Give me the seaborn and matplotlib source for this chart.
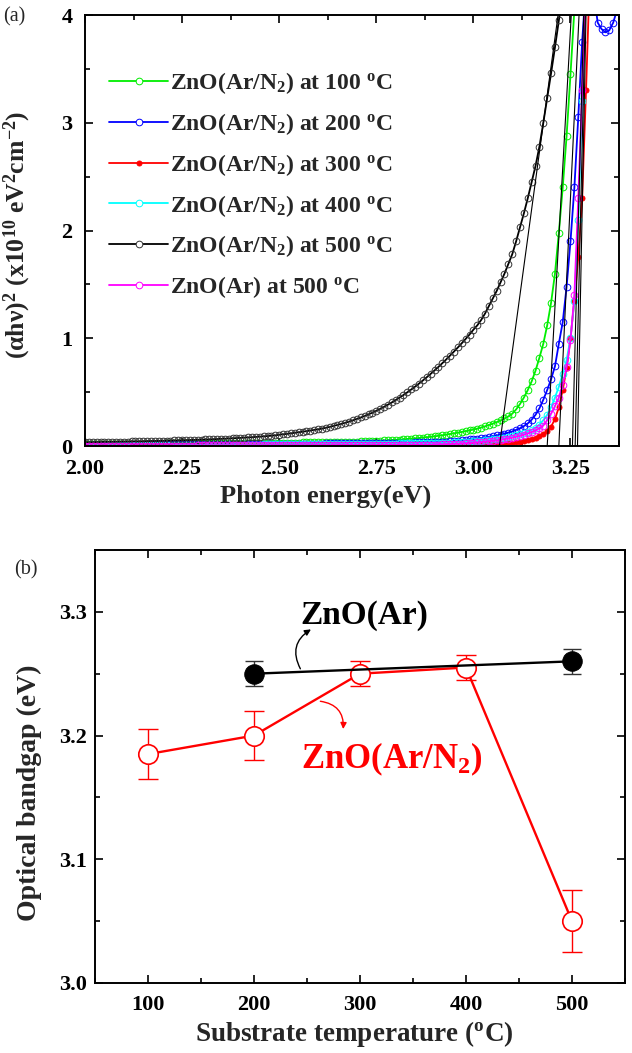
import numpy as np
import pandas as pd
import matplotlib
matplotlib.use("Agg")
import matplotlib.pyplot as plt
from matplotlib.ticker import MultipleLocator, FormatStrFormatter
import seaborn as sns

sns.set_theme(style="ticks")
plt.rcParams["font.family"] = ["Liberation Serif", "DejaVu Serif"]
plt.rcParams["font.weight"] = "bold"
plt.rcParams["axes.labelweight"] = "bold"
plt.rcParams["mathtext.fontset"] = "custom"
plt.rcParams["mathtext.rm"] = "Liberation Serif:bold"
plt.rcParams["mathtext.it"] = "Liberation Serif:bold"
plt.rcParams["mathtext.bf"] = "Liberation Serif:bold"

# ---------------- panel (a): Tauc plot data, sampled every 0.01 eV from 2.00 eV ----------------
energy = np.round(np.arange(200, 338) / 100, 2)

tauc_100 = [
    .020, .020, .020, .020, .021, .021, .021, .021, .021, .022,
    .022, .022, .022, .022, .022, .023, .023, .023, .023, .023,
    .023, .024, .024, .024, .024, .024, .025, .025, .025, .025,
    .025, .025, .026, .026, .026, .026, .026, .027, .027, .027,
    .027, .028, .028, .028, .028, .029, .029, .029, .030, .030,
    .030, .031, .031, .031, .032, .032, .033, .033, .034, .034,
    .035, .035, .036, .036, .037, .038, .038, .039, .040, .041,
    .042, .043, .044, .046, .047, .048, .050, .052, .054, .056,
    .058, .060, .063, .066, .069, .072, .075, .079, .082, .086,
    .090, .095, .100, .106, .112, .118, .124, .131, .138, .145,
    .153, .162, .172, .183, .195, .208, .222, .238, .256, .275,
    .30, .34, .39, .45, .52, .60, .70, .82, .95, 1.12,
    1.33, 1.60, 1.98, 2.40, 2.88, 3.45, 4.05,
]
tauc_200 = [
    .012, .012, .012, .012, .013, .013, .013, .013, .013, .013,
    .014, .014, .014, .014, .014, .014, .015, .015, .015, .015,
    .015, .015, .016, .016, .016, .016, .016, .016, .017, .017,
    .017, .017, .017, .017, .018, .018, .018, .018, .018, .018,
    .019, .019, .019, .019, .019, .020, .020, .020, .020, .020,
    .021, .021, .021, .021, .022, .022, .022, .022, .023, .023,
    .023, .023, .024, .024, .024, .025, .025, .025, .026, .026,
    .026, .027, .027, .027, .028, .028, .029, .029, .029, .030,
    .030, .031, .031, .032, .032, .033, .033, .034, .034, .035,
    .036, .038, .040, .042, .044, .047, .050, .053, .057, .061,
    .065, .069, .074, .079, .085, .091, .098, .106, .115, .125,
    .135, .150, .165, .185, .210, .245, .290, .350, .430, .520,
    .62, .74, .95, 1.15, 1.48, 1.90, 2.40, 3.05, 3.75, 4.30,
    4.50, 4.20, 3.93, 3.87, 3.84, 3.86, 3.93, 4.05,
]
tauc_300 = [
    .002, .002, .002, .002, .002, .002, .002, .002, .002, .003,
    .003, .003, .003, .003, .003, .003, .003, .003, .003, .003,
    .004, .004, .004, .004, .004, .004, .004, .004, .004, .004,
    .005, .005, .005, .005, .005, .005, .005, .005, .005, .005,
    .006, .006, .006, .006, .006, .006, .006, .006, .006, .006,
    .007, .007, .007, .007, .007, .007, .007, .007, .007, .007,
    .008, .008, .008, .008, .008, .008, .008, .008, .008, .008,
    .009, .009, .009, .009, .009, .009, .009, .009, .009, .009,
    .010, .010, .010, .010, .010, .010, .010, .010, .010, .010,
    .010, .010, .011, .011, .011, .011, .011, .011, .012, .012,
    .012, .013, .014, .015, .016, .018, .020, .022, .025, .028,
    .032, .036, .041, .047, .054, .063, .075, .090, .110, .140,
    .18, .25, .36, .52, .72, 1.00, 1.35, 1.75, 2.30, 3.30,
    4.40,
]
tauc_400 = [
    .008, .008, .008, .008, .008, .009, .009, .009, .009, .009,
    .009, .009, .009, .010, .010, .010, .010, .010, .010, .010,
    .011, .011, .011, .011, .011, .011, .011, .012, .012, .012,
    .012, .012, .012, .012, .013, .013, .013, .013, .013, .013,
    .014, .014, .014, .014, .014, .014, .015, .015, .015, .015,
    .015, .016, .016, .016, .016, .016, .017, .017, .017, .017,
    .018, .018, .018, .018, .019, .019, .019, .019, .020, .020,
    .020, .020, .021, .021, .021, .022, .022, .022, .023, .023,
    .023, .024, .024, .024, .025, .025, .025, .026, .026, .026,
    .026, .027, .028, .030, .031, .033, .035, .037, .039, .041,
    .044, .047, .050, .053, .057, .061, .066, .071, .077, .083,
    .090, .100, .110, .120, .135, .150, .170, .200, .240, .290,
    .36, .45, .55, .67, .80, 1.00, 1.35, 2.10, 3.20, 4.30,
]
tauc_500 = [
    .035, .035, .036, .037, .037, .038, .039, .039, .040, .041,
    .041, .042, .043, .044, .044, .045, .046, .047, .047, .048,
    .049, .050, .051, .052, .053, .054, .055, .056, .057, .058,
    .060, .061, .062, .064, .065, .067, .068, .070, .072, .074,
    .076, .078, .080, .082, .085, .087, .090, .093, .096, .099,
    .105, .109, .113, .118, .123, .128, .133, .138, .144, .150,
    .155, .162, .170, .178, .187, .196, .206, .216, .227, .239,
    .252, .265, .279, .294, .310, .327, .345, .364, .384, .405,
    .427, .450, .474, .499, .525, .552, .580, .609, .639, .670,
    .702, .735, .769, .804, .840, .877, .915, .954, .994, 1.035,
    1.08, 1.12, 1.17, 1.23, 1.30, 1.37, 1.44, 1.52, 1.60, 1.69,
    1.78, 1.90, 2.03, 2.16, 2.30, 2.45, 2.60, 2.78, 3.00, 3.23,
    3.46, 3.70, 3.95, 4.20,
]
tauc_ar500 = [
    .003, .003, .003, .003, .003, .003, .003, .003, .004, .004,
    .004, .004, .004, .004, .004, .004, .004, .004, .004, .005,
    .005, .005, .005, .005, .005, .005, .005, .005, .005, .006,
    .006, .006, .006, .006, .006, .006, .006, .006, .006, .007,
    .007, .007, .007, .007, .007, .007, .007, .007, .007, .008,
    .008, .008, .008, .008, .008, .008, .008, .008, .009, .009,
    .009, .009, .009, .009, .009, .009, .009, .010, .010, .010,
    .010, .010, .010, .010, .010, .010, .011, .011, .011, .011,
    .011, .011, .011, .011, .012, .012, .012, .012, .012, .012,
    .013, .014, .015, .016, .017, .019, .021, .023, .025, .027,
    .030, .033, .036, .040, .044, .048, .053, .058, .064, .070,
    .078, .086, .095, .105, .117, .130, .145, .165, .190, .240,
    .30, .37, .45, .57, .73, .98, 1.40, 2.30, 3.30, 4.30,
]

series_labels = [
    r"ZnO(Ar/N$_2$) at 100 $^{\rm o}$C",
    r"ZnO(Ar/N$_2$) at 200 $^{\rm o}$C",
    r"ZnO(Ar/N$_2$) at 300 $^{\rm o}$C",
    r"ZnO(Ar/N$_2$) at 400 $^{\rm o}$C",
    r"ZnO(Ar/N$_2$) at 500 $^{\rm o}$C",
    r"ZnO(Ar) at 500 $^{\rm o}$C",
]
series_values = [tauc_100, tauc_200, tauc_300, tauc_400, tauc_500, tauc_ar500]
series_colors = ["#00ee00", "#0000ff", "#ff0000", "#00ffff", "#000000", "#ff00ff"]
series_filled = [False, False, True, False, False, False]

# linear fits of the absorption edge: energy where the fit is 0 and where it reaches 4
fit_start = [3.190, 3.220, 3.255, 3.262, 3.067, 3.268]
fit_end = [3.252, 3.272, 3.284, 3.288, 3.218, 3.290]
fit_levels = [0, 4]

# ---------------- panel (b): optical bandgap ----------------
temp_n2 = [100, 200, 300, 400, 500]
gap_n2 = [3.185, 3.200, 3.250, 3.255, 3.050]
err_n2 = [0.020, 0.020, 0.010, 0.010, 0.025]
temp_ar = [200, 500]
gap_ar = [3.250, 3.260]
err_ar = [0.010, 0.010]

fig = plt.figure(figsize=(6.32, 10.53), dpi=100)
ax1 = fig.add_axes([0.1345, 0.5764, 0.845, 0.4093])
ax2 = fig.add_axes([0.1503, 0.0665, 0.8386, 0.4112])

for vals, lab, col, filled in zip(series_values, series_labels, series_colors, series_filled):
    d = pd.DataFrame({"energy": energy[:len(vals)], "value": vals})
    edge = "#333333" if col == "#000000" else col
    sns.lineplot(data=d, x="energy", y="value", ax=ax1, estimator=None, sort=False,
                 color=col, linewidth=1.3, marker="o",
                 markersize=3.6 if filled else 4.8,
                 markerfacecolor=col if filled else "none",
                 markeredgecolor=edge, markeredgewidth=0.7,
                 label=lab)

for e0, e1 in zip(fit_start, fit_end):
    sns.lineplot(x=[e0, e1], y=fit_levels, ax=ax1, color="black", linewidth=0.8,
                 estimator=None, sort=False, label="_nolegend_")

ax1.set_xlim(2.0, 3.375)
ax1.set_ylim(0, 4)
ax1.xaxis.set_major_locator(MultipleLocator(0.25))
ax1.xaxis.set_minor_locator(MultipleLocator(0.125))
ax1.xaxis.set_major_formatter(FormatStrFormatter("%.2f"))
ax1.yaxis.set_major_locator(MultipleLocator(1))
ax1.yaxis.set_minor_locator(MultipleLocator(0.5))
ax1.set_xlabel("Photon energy(eV)", fontsize=19)
ax1.set_ylabel(r"$(\alpha h\nu)^2$ (x10$^{10}$ eV$^2$cm$^{-2}$)", fontsize=18.5)
ax1.xaxis.set_label_coords(0.451, -0.09)
ax1.yaxis.set_label_coords(-0.097, 0.49)

leg = ax1.legend(loc="upper left", bbox_to_anchor=(0.045, 0.872), frameon=False,
                 fontsize=17, handlelength=2.5, handletextpad=0.1,
                 labelspacing=0.63, borderaxespad=0, borderpad=0)
for h, filled in zip(leg.legend_handles, series_filled):
    if not filled:
        h.set_markerfacecolor("white")

# panel (b)
ax2.errorbar(temp_n2, gap_n2, yerr=err_n2, fmt="none", ecolor="red",
             elinewidth=1, capsize=7, capthick=1, zorder=2)
sns.lineplot(x=temp_n2, y=gap_n2, ax=ax2, estimator=None, sort=False, color="red",
             linewidth=1.7, marker="o", markersize=14, markerfacecolor="white",
             markeredgecolor="red", markeredgewidth=1.2, zorder=3)
ax2.errorbar(temp_ar, gap_ar, yerr=err_ar, fmt="none", ecolor="#333333",
             elinewidth=1, capsize=6.5, capthick=1, zorder=4)
sns.lineplot(x=temp_ar, y=gap_ar, ax=ax2, estimator=None, sort=False, color="black",
             linewidth=1.7, marker="o", markersize=14, markerfacecolor="black",
             markeredgecolor="black", zorder=5)

ax2.text(304, 3.297, "ZnO(Ar)", ha="center", va="center", fontsize=24, color="black")
ax2.annotate("", xy=(256, 3.287), xytext=(245, 3.252),
             arrowprops=dict(arrowstyle="-|>", color="black", lw=1,
                             connectionstyle="arc3,rad=-0.5", mutation_scale=9))
ax2.text(330, 3.181, r"ZnO(Ar/N$_2$)", ha="center", va="center", fontsize=25, color="red")
ax2.annotate("", xy=(284, 3.203), xytext=(260, 3.228),
             arrowprops=dict(arrowstyle="-|>", color="red", lw=1,
                             connectionstyle="arc3,rad=-0.5", mutation_scale=9))

ax2.set_xlim(50, 550)
ax2.set_ylim(3.0, 3.35)
ax2.xaxis.set_major_locator(MultipleLocator(100))
ax2.xaxis.set_minor_locator(MultipleLocator(50))
ax2.yaxis.set_major_locator(MultipleLocator(0.1))
ax2.yaxis.set_minor_locator(MultipleLocator(0.05))
ax2.yaxis.set_major_formatter(FormatStrFormatter("%.1f"))
ax2.set_xticks([100, 200, 300, 400, 500])
ax2.set_xlabel(r"Substrate temperature ($^{\rm o}$C)", fontsize=19.5)
ax2.set_ylabel("Optical bandgap (eV)", fontsize=20)
ax2.xaxis.set_label_coords(0.49, -0.083)
ax2.yaxis.set_label_coords(-0.1, 0.44)

for ax, ypad in ((ax1, 9), (ax2, 6)):
    for s in ax.spines.values():
        s.set_linewidth(1.4)
        s.set_color("black")
    ax.tick_params(which="both", direction="in", top=True, right=True, width=1.2,
                   colors="black", labelsize=16)
    ax.tick_params(axis="x", which="both", pad=9)
    ax.tick_params(axis="y", which="both", pad=ypad)
    ax.tick_params(which="major", length=6)
    ax.tick_params(which="minor", length=3.5)
    for t in ax.get_xticklabels() + ax.get_yticklabels():
        t.set_fontweight("bold")

fig.text(0.005, 0.984, "(a)", fontsize=14.5, fontweight="normal", va="center")
fig.text(0.022, 0.459, "(b)", fontsize=14.5, fontweight="normal", va="center")

fig.savefig("out.png", dpi=100)
